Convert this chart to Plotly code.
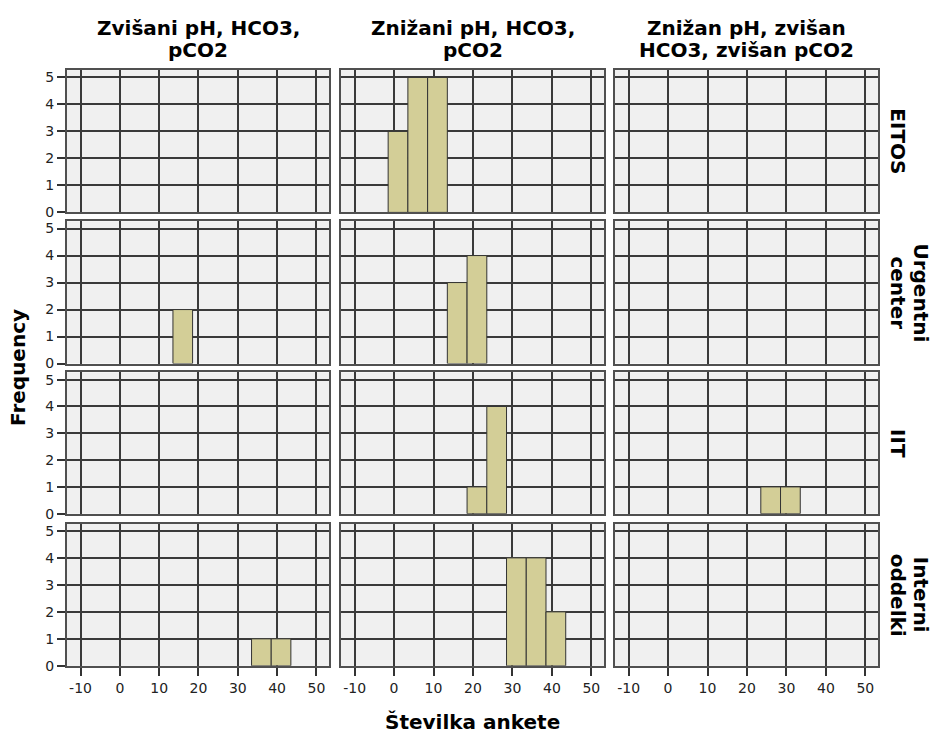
import plotly.graph_objects as go

# ---- data ----
bin_centers = [1, 6, 11, 16, 21, 26, 31, 36, 41]   # Številka ankete bins (width 5)
bin_width = 5

col_titles = [["Zvišani pH, HCO3,", "pCO2"],
              ["Znižani pH, HCO3,", "pCO2"],
              ["Znižan pH, zvišan", "HCO3, zvišan pCO2"]]
row_titles = [["EITOS"], ["Urgentni", "center"], ["IIT"], ["Interni", "oddelki"]]

eitos_counts = [[0, 0, 0, 0, 0, 0, 0, 0, 0],
                [3, 5, 5, 0, 0, 0, 0, 0, 0],
                [0, 0, 0, 0, 0, 0, 0, 0, 0]]
urgentni_counts = [[0, 0, 0, 2, 0, 0, 0, 0, 0],
                   [0, 0, 0, 3, 4, 0, 0, 0, 0],
                   [0, 0, 0, 0, 0, 0, 0, 0, 0]]
iit_counts = [[0, 0, 0, 0, 0, 0, 0, 0, 0],
              [0, 0, 0, 0, 1, 4, 0, 0, 0],
              [0, 0, 0, 0, 0, 1, 1, 0, 0]]
interni_counts = [[0, 0, 0, 0, 0, 0, 0, 1, 1],
                  [0, 0, 0, 0, 0, 0, 4, 4, 2],
                  [0, 0, 0, 0, 0, 0, 0, 0, 0]]
all_counts = [eitos_counts, urgentni_counts, iit_counts, interni_counts]

x_tick_vals = [-10, 0, 10, 20, 30, 40, 50]
x_tick_text = ["-10", "0", "10", "20", "30", "40", "50"]
y_tick_vals = [0, 1, 2, 3, 4, 5]
y_tick_text = ["0", "1", "2", "3", "4", "5"]
x_title = "Številka ankete"
y_title = "Frequency"

# ---- layout geometry (pixels) ----
W, H = 933, 742
col_px = [(67, 329), (341, 604), (615, 878)]
row_px = [(70, 214), (223, 367), (376, 519), (529, 673)]
x_range = [-13.45, 53.2]
y_range = [0, 5.27]

BAR_FILL = "#d3ce97"
GRID = "#3a3a3a"
FONT = "DejaVu Sans"

fig = go.Figure()
layout = dict(width=W, height=H, autosize=False,
              margin=dict(l=0, r=0, t=0, b=0),
              paper_bgcolor="white", plot_bgcolor="#f0f0f0",
              showlegend=False, annotations=[], hovermode=False)

for r in range(4):
    for c in range(3):
        k = r * 3 + c + 1
        sx = "" if k == 1 else str(k)
        counts = all_counts[r][c]
        xs = [x for x, n in zip(bin_centers, counts) if n > 0]
        ys = [n for n in counts if n > 0]
        fig.add_trace(go.Bar(x=xs, y=ys, width=[bin_width] * len(xs),
                             marker=dict(color=BAR_FILL, line=dict(color="#333333", width=1)),
                             xaxis="x" + sx, yaxis="y" + sx))
        x0, x1 = col_px[c]
        y0, y1 = row_px[r]
        bottom = (r == 3)
        left = (c == 0)
        layout["xaxis" + sx] = dict(
            domain=[x0 / W, x1 / W], anchor="y" + sx, range=x_range,
            tickvals=x_tick_vals, ticktext=x_tick_text,
            showgrid=True, gridcolor=GRID, gridwidth=2,
            zeroline=False, showline=True, linecolor="#505050", linewidth=2, mirror=True,
            ticks="outside" if bottom else "", ticklen=8, tickcolor="#333333", tickwidth=2,
            showticklabels=bottom, tickfont=dict(family=FONT, size=14, color="#222222"))
        layout["yaxis" + sx] = dict(
            domain=[1 - y1 / H, 1 - y0 / H], anchor="x" + sx, range=y_range,
            tickvals=y_tick_vals, ticktext=y_tick_text,
            showgrid=True, gridcolor=GRID, gridwidth=2,
            zeroline=False, showline=True, linecolor="#505050", linewidth=2, mirror=True,
            ticks="outside" if left else "", ticklen=8, tickcolor="#333333", tickwidth=2,
            showticklabels=left, tickfont=dict(family=FONT, size=14, color="#222222"))

title_font = dict(family=FONT, size=20, color="black", weight="bold")

# column titles
title_line_y = [27.5, 49.8]
for c in range(3):
    cx = (col_px[c][0] + col_px[c][1]) / 2
    for i, line in enumerate(col_titles[c]):
        layout["annotations"].append(dict(
            text=line, x=cx / W, y=1 - title_line_y[i] / H, xref="paper", yref="paper",
            xanchor="center", yanchor="middle", showarrow=False, font=title_font))

# row titles (rotated)
for r in range(4):
    cy = (row_px[r][0] + row_px[r][1]) / 2
    lines = row_titles[r]
    xs = [898] if len(lines) == 1 else [921, 898]
    for i, line in enumerate(lines):
        layout["annotations"].append(dict(
            text=line, x=xs[i] / W, y=1 - cy / H, xref="paper", yref="paper",
            xanchor="center", yanchor="middle", textangle=90, showarrow=False,
            font=title_font))

# axis titles
layout["annotations"].append(dict(
    text=x_title, x=472.5 / W, y=1 - 730 / H, xref="paper", yref="paper",
    xanchor="center", yanchor="middle", showarrow=False, font=title_font))
layout["annotations"].append(dict(
    text=y_title, x=18 / W, y=1 - 371.5 / H, xref="paper", yref="paper",
    xanchor="center", yanchor="middle", textangle=-90, showarrow=False, font=title_font))

fig.update_layout(**layout)
fig.write_html("out.html")
